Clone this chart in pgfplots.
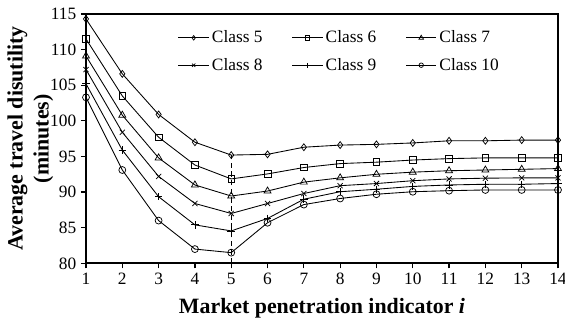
\documentclass[border=0pt]{standalone}
\usepackage{fontspec}
\setmainfont{Liberation Serif}
\usepackage{pgfplots}
\pgfplotsset{compat=1.18}
\begin{document}
\begin{tikzpicture}
\begin{axis}[
  scale only axis,
  width=354pt, height=187pt,
  xmin=1, xmax=14, ymin=80, ymax=115,
  xtick={1,...,14}, ytick={80,85,...,115},
  tick align=outside, tick pos=left,
  major tick length=3.8pt,
  clip=false,
  axis line style={line width=1.5pt},
  every tick/.style={line width=0.9pt, black},
  /pgf/number format/assume math mode=true,
  ticklabel style={font=\fontsize{13}{15}\selectfont},
  xlabel={Market penetration indicator \textit{i}},
  ylabel={\shortstack{Average travel disutility\\[1.5pt](minutes)}},
  label style={font=\fontsize{16.4}{17}\selectfont\bfseries},
  xlabel style={at={(axis description cs:0.5,-0.203)}, anchor=base},
  ylabel style={at={(axis description cs:-0.118,0.5)}, anchor=center},
  legend columns=3,
  legend style={draw=none, fill=none, at={(0.186,0.955)}, anchor=north west,
    font=\fontsize{13}{15}\selectfont, row sep=6pt,
    /tikz/every even column/.append style={column sep=20pt}},
  legend cell align=left,
  legend image code/.code={\draw[mark repeat=2,mark phase=2,#1,every mark/.append style={scale=0.65}] plot coordinates {(0cm,0cm) (0.4cm,0cm) (0.8cm,0cm)};},
  every axis plot/.append style={black, line width=0.65pt, mark options={fill=white, solid, line width=0.55pt}},
]
\draw[line width=1.5pt, line cap=rect] (rel axis cs:0,0) rectangle (rel axis cs:1,1);
\coordinate (sw) at (rel axis cs:0,0);
\coordinate (ne) at (rel axis cs:1,1);
\addplot[dash pattern=on 4pt off 2.5pt, line width=0.8pt, mark=none, forget plot] coordinates {(5,80) (5,95.2)};
\addplot[mark=diamond, mark size=2.6pt] coordinates {(1,114.3) (2,106.6) (3,100.9) (4,97.0) (5,95.2) (6,95.3) (7,96.3) (8,96.6) (9,96.7) (10,96.9) (11,97.2) (12,97.2) (13,97.3) (14,97.3)};
\addlegendentry{Class 5}
\addplot[mark=square, mark size=2.5pt] coordinates {(1,111.5) (2,103.5) (3,97.7) (4,93.8) (5,91.85) (6,92.55) (7,93.45) (8,94.0) (9,94.2) (10,94.5) (11,94.7) (12,94.8) (13,94.8) (14,94.8)};
\addlegendentry{Class 6}
\addplot[mark=triangle, mark size=3pt] coordinates {(1,109.1) (2,100.8) (3,94.8) (4,91.0) (5,89.45) (6,90.15) (7,91.4) (8,92.0) (9,92.5) (10,92.8) (11,93.0) (12,93.1) (13,93.2) (14,93.3)};
\addlegendentry{Class 7}
\addplot[mark=x, mark size=2.7pt] coordinates {(1,107.2) (2,98.4) (3,92.2) (4,88.4) (5,87.0) (6,88.4) (7,89.8) (8,90.9) (9,91.2) (10,91.6) (11,91.85) (12,91.95) (13,92.0) (14,92.0)};
\addlegendentry{Class 8}
\addplot[mark=+, mark size=2.8pt] coordinates {(1,105.2) (2,95.9) (3,89.35) (4,85.4) (5,84.55) (6,86.3) (7,89.0) (8,90.05) (9,90.4) (10,90.8) (11,91.0) (12,91.1) (13,91.1) (14,91.2)};
\addlegendentry{Class 9}
\addplot[mark=o, mark size=2.6pt] coordinates {(1,103.3) (2,93.1) (3,86.0) (4,82.0) (5,81.5) (6,85.7) (7,88.25) (8,89.1) (9,89.7) (10,90.05) (11,90.2) (12,90.3) (13,90.3) (14,90.3)};
\addlegendentry{Class 10}
\end{axis}
\pgfresetboundingbox
\path ([shift={(-64.5pt,-42.75pt)}]sw) rectangle ([shift={(5.25pt,10.5pt)}]ne);
\end{tikzpicture}
\end{document}
